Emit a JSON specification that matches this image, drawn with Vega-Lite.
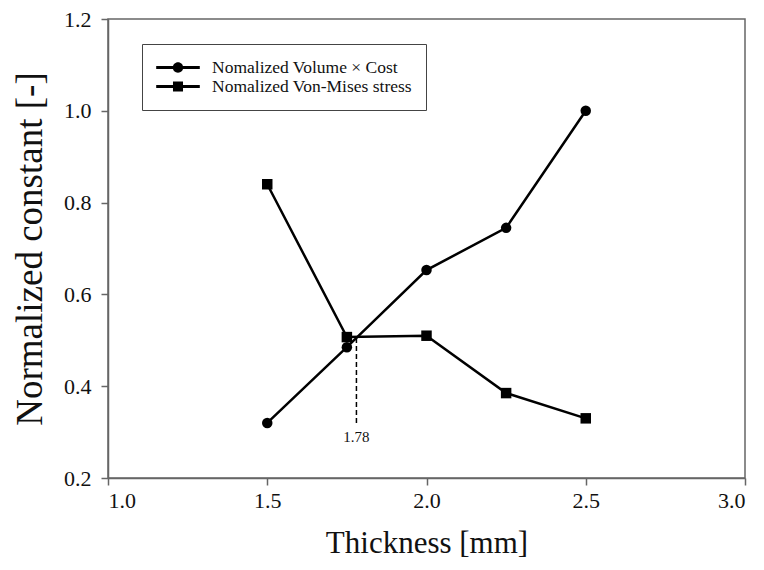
{
  "$schema": "https://vega.github.io/schema/vega-lite/v6.json",
  "width": 637,
  "height": 459,
  "autosize": {"type": "none"},
  "padding": {"left": 108, "top": 19, "right": 19, "bottom": 92},
  "background": "white",
  "config": {
    "view": {"stroke": "#666", "strokeWidth": 1.5},
    "axis": {
      "grid": false,
      "domainColor": "#666",
      "domainWidth": 1.5,
      "tickColor": "#666",
      "tickWidth": 1.5,
      "tickSize": 7,
      "labelFont": "Liberation Serif",
      "labelFontSize": 22,
      "labelColor": "#111",
      "titleFont": "Liberation Serif",
      "titleFontWeight": "normal",
      "titleColor": "#111"
    }
  },
  "datasets": {
    "series": [
      {"thickness": 1.5, "value": 0.32, "series": "Nomalized Volume × Cost"},
      {"thickness": 1.75, "value": 0.485, "series": "Nomalized Volume × Cost"},
      {"thickness": 2.0, "value": 0.653, "series": "Nomalized Volume × Cost"},
      {"thickness": 2.25, "value": 0.745, "series": "Nomalized Volume × Cost"},
      {"thickness": 2.5, "value": 1.0, "series": "Nomalized Volume × Cost"},
      {"thickness": 1.5, "value": 0.84, "series": "Nomalized Von-Mises stress"},
      {"thickness": 1.75, "value": 0.507, "series": "Nomalized Von-Mises stress"},
      {"thickness": 2.0, "value": 0.51, "series": "Nomalized Von-Mises stress"},
      {"thickness": 2.25, "value": 0.385, "series": "Nomalized Von-Mises stress"},
      {"thickness": 2.5, "value": 0.33, "series": "Nomalized Von-Mises stress"}
    ],
    "marker": [
      {"thickness": 1.78, "top": 0.505, "bottom": 0.315, "label": "1.78", "labelY": 0.29}
    ]
  },
  "layer": [
    {
      "data": {"name": "series"},
      "mark": {"type": "line", "color": "black", "strokeWidth": 2.5},
      "encoding": {
        "x": {
          "field": "thickness",
          "type": "quantitative",
          "scale": {"domain": [1.0, 3.0], "nice": false, "zero": false},
          "axis": {"values": [1.0, 1.5, 2.0, 2.5, 3.0], "format": ".1f", "labelPadding": 5, "titlePadding": 17, "titleFontSize": 31},
          "title": "Thickness [mm]"
        },
        "y": {
          "field": "value",
          "type": "quantitative",
          "scale": {"domain": [0.2, 1.2], "nice": false, "zero": false},
          "axis": {"values": [0.2, 0.4, 0.6, 0.8, 1.0, 1.2], "format": ".1f", "labelPadding": 10, "titlePadding": 14, "titleFontSize": 37},
          "title": "Normalized constant [-]"
        },
        "detail": {"field": "series"}
      }
    },
    {
      "data": {"name": "series"},
      "mark": {"type": "point", "filled": true, "color": "black", "opacity": 1, "size": 110},
      "encoding": {
        "x": {"field": "thickness", "type": "quantitative"},
        "y": {"field": "value", "type": "quantitative"},
        "shape": {
          "field": "series",
          "type": "nominal",
          "scale": {"domain": ["Nomalized Volume × Cost", "Nomalized Von-Mises stress"], "range": ["circle", "square"]},
          "legend": null
        }
      }
    },
    {
      "data": {"name": "series"},
      "mark": {"type": "point", "filled": true, "color": "black", "opacity": 0},
      "encoding": {
        "x": {"field": "thickness", "type": "quantitative"},
        "y": {"field": "value", "type": "quantitative"},
        "shape": {
          "field": "series",
          "type": "nominal",
          "scale": {
            "domain": ["Nomalized Volume × Cost", "Nomalized Von-Mises stress"],
            "range": [
              "M-1,-0.07H1V0.07H-1Z M0.24,0 A0.24,0.24 0 1,1 -0.24,0 A0.24,0.24 0 1,1 0.24,0 Z",
              "M-1,-0.07H1V0.07H-1Z M-0.23,-0.23H0.23V0.23H-0.23Z"
            ]
          },
          "legend": {
            "title": null,
            "orient": "none",
            "legendX": 34,
            "legendY": 25,
            "symbolSize": 1900,
            "symbolFillColor": "black",
            "symbolStrokeColor": "black",
            "symbolStrokeWidth": 0,
            "symbolOpacity": 1,
            "labelFont": "Liberation Serif",
            "labelFontSize": 17.5,
            "labelColor": "#111",
            "labelOffset": 12,
            "labelLimit": 400,
            "padding": 14,
            "strokeColor": "#444",
            "fillColor": "white",
            "clipHeight": 19,
            "rowPadding": 0
          }
        }
      }
    },
    {
      "data": {"name": "marker"},
      "mark": {"type": "rule", "color": "black", "strokeWidth": 1.5, "strokeDash": [5, 3]},
      "encoding": {
        "x": {"field": "thickness", "type": "quantitative"},
        "y": {"field": "top", "type": "quantitative"},
        "y2": {"field": "bottom"}
      }
    },
    {
      "data": {"name": "marker"},
      "mark": {"type": "text", "font": "Liberation Serif", "fontSize": 15, "color": "#111"},
      "encoding": {
        "x": {"field": "thickness", "type": "quantitative"},
        "y": {"field": "labelY", "type": "quantitative"},
        "text": {"field": "label"}
      }
    }
  ],
  "resolve": {"scale": {"shape": "independent"}}
}
